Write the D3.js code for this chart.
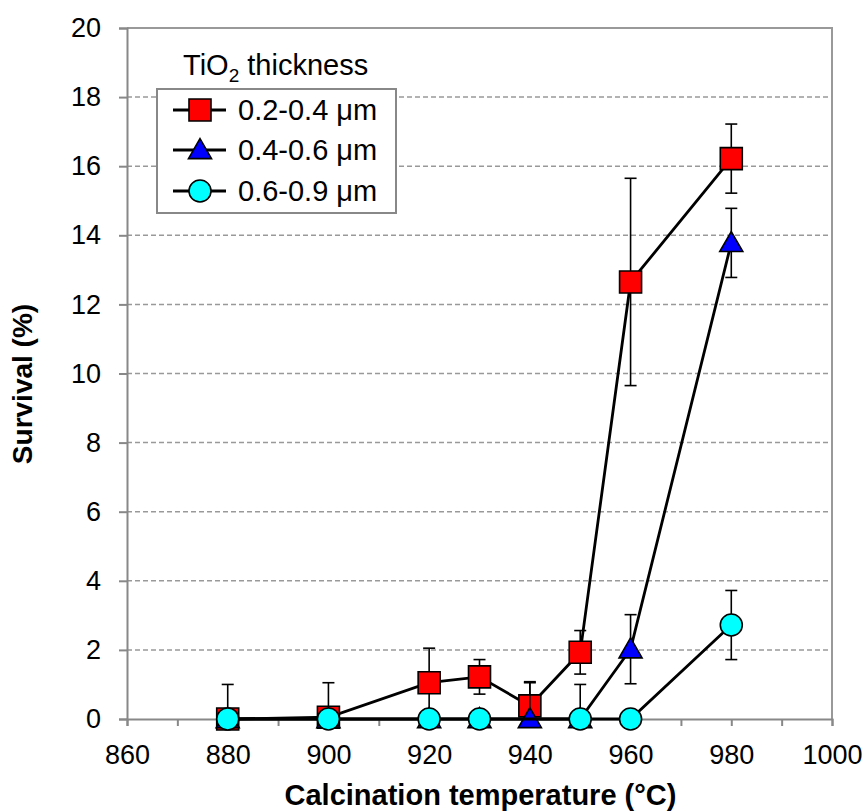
<!DOCTYPE html>
<html>
<head>
<meta charset="utf-8">
<script src="https://cdn.jsdelivr.net/npm/d3@7"></script>
<style>
  body { margin: 0; background: #fff; }
  svg text { font-family: "Liberation Sans", Arial, sans-serif; fill: #000; }
</style>
</head>
<body>
<div id="chart"></div>
<script>
// temperatures (°C)
const temps = [880, 900, 920, 930, 940, 950, 960, 980];
const tempsThick = [880, 900, 920, 930, 950, 960, 980];

// survival (%) and error for each thickness range
const thin = [0, 0.05, 1.05, 1.22, 0.38, 1.93, 12.65, 16.22];
const thinErr = [1, 1, 1, 0.5, 0.7, 0.63, 3, 1];
const mid = [0, 0, 0, 0, 0, 0, 2.02, 13.78];
const midErr = [0, 0, 0, 0, 1.05, 1, 1, 1];
const thick = [0, 0, 0, 0, 0, 0, 2.72];
const thickErr = [0, 0, 0, 0, 0, 0, 1];

const seriesNames = ["0.2-0.4 μm", "0.4-0.6 μm", "0.6-0.9 μm"];
const yTicks = [0, 2, 4, 6, 8, 10, 12, 14, 16, 18, 20];
const xLabels = [860, 880, 900, 920, 940, 960, 980, 1000];

const W = 866, H = 812;
const plotL = 127, plotR = 832, plotT = 28, plotB = 719;

const svg = d3.select("#chart").append("svg")
  .attr("width", W).attr("height", H);

const x = d3.scaleLinear().domain([860, 1000]).range([plotL, plotR]);
const y = d3.scaleLinear().domain([0, 20]).range([plotB, plotT]);

// gridlines
svg.append("g").selectAll("line")
  .data(yTicks.filter(d => d > 0 && d < 20))
  .join("line")
  .attr("x1", plotL).attr("x2", plotR)
  .attr("y1", d => y(d)).attr("y2", d => y(d))
  .attr("stroke", "#999").attr("stroke-width", 1.5)
  .attr("stroke-dasharray", "5,3");

// plot border (top + right)
svg.append("path")
  .attr("d", "M" + plotL + "," + plotT + " H" + plotR + " V" + plotB)
  .attr("fill", "none").attr("stroke", "#999").attr("stroke-width", 2);

// y axis
const yAxis = svg.append("g")
  .attr("transform", "translate(" + plotL + ",0)")
  .call(d3.axisLeft(y).tickValues(yTicks).tickSize(8).tickPadding(18));
yAxis.select(".domain").attr("stroke", "#888").attr("stroke-width", 2);
yAxis.selectAll(".tick line").attr("stroke", "#888").attr("stroke-width", 2);
yAxis.selectAll("text").attr("font-size", 27).attr("font-family", "Liberation Sans, Arial, sans-serif");

// x axis: minor ticks each 10, labels each 20
const xAxis = svg.append("g")
  .attr("transform", "translate(0," + plotB + ")")
  .call(d3.axisBottom(x).tickValues(d3.range(860, 1001, 10)).tickSize(7).tickPadding(19)
    .tickFormat(d => xLabels.includes(d) ? d : ""));
xAxis.select(".domain").attr("stroke", "#888").attr("stroke-width", 2);
xAxis.selectAll(".tick line").attr("stroke", "#888").attr("stroke-width", 2);
xAxis.selectAll("text").attr("font-size", 27).attr("font-family", "Liberation Sans, Arial, sans-serif");

// axis titles
svg.append("text")
  .attr("x", (plotL + plotR) / 2 + 1).attr("y", 805)
  .attr("text-anchor", "middle")
  .attr("font-size", 29).attr("font-weight", "bold")
  .text("Calcination temperature (°C)");
svg.append("text")
  .attr("transform", "translate(32," + 384 + ") rotate(-90)")
  .attr("text-anchor", "middle")
  .attr("font-size", 28).attr("font-weight", "bold")
  .text("Survival (%)");

svg.append("clipPath").attr("id", "plotclip")
  .append("rect").attr("x", plotL).attr("y", plotT)
  .attr("width", plotR - plotL).attr("height", plotB - plotT);

const series = [
  {xs: temps, ys: thin, err: thinErr, color: "#ff0000", shape: "square"},
  {xs: temps, ys: mid, err: midErr, color: "#0000ff", shape: "triangle"},
  {xs: tempsThick, ys: thick, err: thickErr, color: "#00ffff", shape: "circle"}
];

const symbols = {
  square: d3.symbol().type(d3.symbolSquare).size(22 * 22),
  triangle: d3.symbol().type(d3.symbolTriangle).size(230),
  circle: d3.symbol().type(d3.symbolCircle).size(Math.PI * 11 * 11)
};

const plot = svg.append("g");

series.forEach(s => {
  const pts = s.xs.map((t, i) => ({t: t, v: s.ys[i], e: s.err[i]}));
  const g = plot.append("g");

  // error bars
  const eb = g.append("g").attr("clip-path", "url(#plotclip)");
  pts.filter(p => p.e > 0).forEach(p => {
    const cx = x(p.t);
    eb.append("line").attr("x1", cx).attr("x2", cx)
      .attr("y1", y(p.v - p.e)).attr("y2", y(p.v + p.e))
      .attr("stroke", "#000").attr("stroke-width", 1.6);
    [p.v - p.e, p.v + p.e].forEach(v => {
      eb.append("line").attr("x1", cx - 6).attr("x2", cx + 6)
        .attr("y1", y(v)).attr("y2", y(v))
        .attr("stroke", "#000").attr("stroke-width", 1.6);
    });
  });

  g.append("path")
    .datum(pts)
    .attr("d", d3.line().x(p => x(p.t)).y(p => y(p.v)))
    .attr("fill", "none").attr("stroke", "#000").attr("stroke-width", 2.8);

  g.selectAll(".mk").data(pts).join("path")
    .attr("transform", p => "translate(" + x(p.t) + "," + (y(p.v) + (s.shape === "triangle" ? 2 : 0)) + ")")
    .attr("d", symbols[s.shape])
    .attr("fill", s.color).attr("stroke", "#000").attr("stroke-width", 1.6);
});

// legend
svg.append("text")
  .attr("x", 183).attr("y", 75)
  .attr("font-size", 29)
  .call(t => {
    t.append("tspan").text("TiO");
    t.append("tspan").attr("font-size", 19).attr("dy", 7).text("2");
    t.append("tspan").attr("dy", -7).text(" thickness");
  });

svg.append("rect")
  .attr("x", 157).attr("y", 89).attr("width", 239).attr("height", 124)
  .attr("fill", "#fff").attr("stroke", "#888").attr("stroke-width", 2);

const legendY = [110, 150, 191];
series.forEach((s, i) => {
  const ly = legendY[i];
  svg.append("line").attr("x1", 173).attr("x2", 226)
    .attr("y1", ly).attr("y2", ly)
    .attr("stroke", "#000").attr("stroke-width", 2.8);
  svg.append("path")
    .attr("transform", "translate(200," + (ly + (s.shape === "triangle" ? 2 : 0)) + ")")
    .attr("d", symbols[s.shape])
    .attr("fill", s.color).attr("stroke", "#000").attr("stroke-width", 1.6);
  svg.append("text")
    .attr("x", 238).attr("y", ly + 10)
    .attr("font-size", 29)
    .text(seriesNames[i]);
});
</script>
</body>
</html>
